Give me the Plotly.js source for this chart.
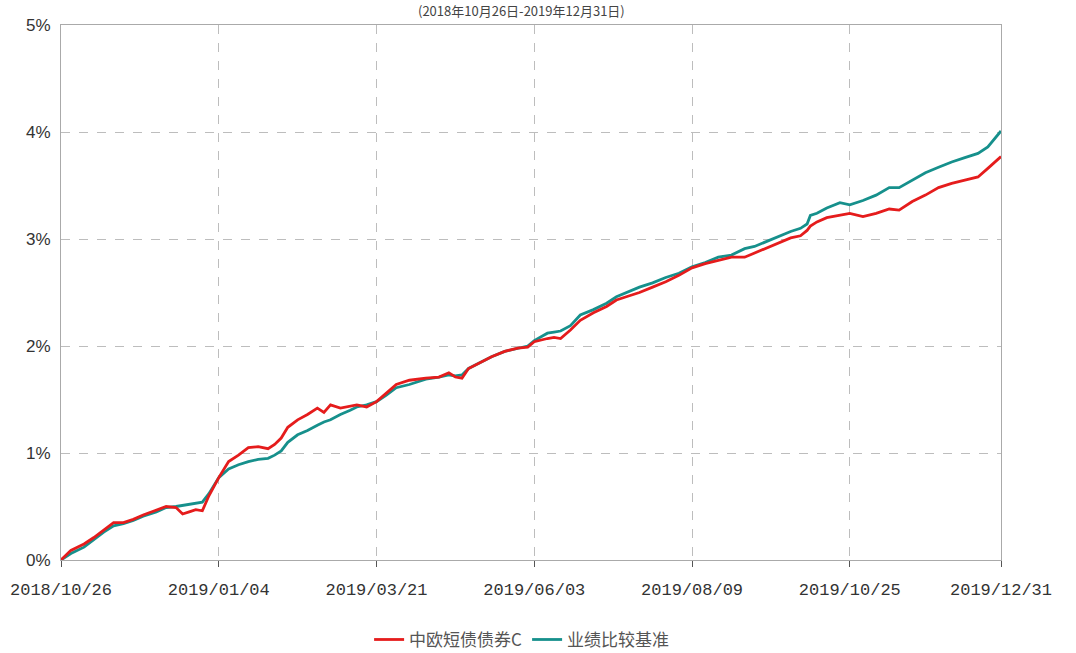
<!DOCTYPE html>
<html>
<head>
<meta charset="utf-8">
<script src="https://cdn.plot.ly/plotly-3.0.1.min.js"></script>
<style>html,body{margin:0;padding:0;background:#fff;}#chart{width:1076px;height:653px;}</style>
</head>
<body>
<div id="chart"></div>
<script>
// trading-day index since 2018/10/26
const days = [0,3,7,10,13,16,19,22,25,29,32,35,37,39,41,43,45,48,51,54,57,60,63,65,67,69,72,75,78,80,82,85,88,90,93,96,99,102,106,108,111,115,118,120,122,124,127,131,135,139,142,144,148,150,152,155,158,162,166,169,172,176,180,184,188,192,196,200,204,208,211,214,218,222,225,227,228,230,233,237,240,244,248,252,255,259,263,267,271,275,279,282,286];
const fundName = '中欧短债债券C';
const benchName = '业绩比较基准';
const fundValues = [0.00,0.09,0.15,0.21,0.28,0.35,0.35,0.38,0.42,0.47,0.50,0.49,0.43,0.45,0.47,0.46,0.60,0.77,0.92,0.98,1.05,1.06,1.04,1.08,1.14,1.24,1.31,1.36,1.42,1.38,1.45,1.42,1.44,1.45,1.43,1.48,1.56,1.64,1.68,1.69,1.70,1.71,1.75,1.71,1.70,1.79,1.84,1.90,1.95,1.98,1.99,2.04,2.07,2.08,2.07,2.15,2.24,2.31,2.37,2.43,2.46,2.50,2.55,2.60,2.66,2.73,2.77,2.80,2.83,2.83,2.87,2.91,2.96,3.01,3.03,3.08,3.12,3.16,3.20,3.22,3.24,3.21,3.24,3.28,3.27,3.35,3.41,3.48,3.52,3.55,3.58,3.66,3.77];
const benchValues = [0.00,0.06,0.12,0.19,0.26,0.32,0.34,0.37,0.41,0.45,0.49,0.50,0.51,0.52,0.53,0.54,0.62,0.77,0.85,0.89,0.92,0.94,0.95,0.98,1.02,1.10,1.17,1.21,1.26,1.29,1.31,1.36,1.40,1.43,1.45,1.48,1.54,1.61,1.64,1.66,1.69,1.71,1.73,1.72,1.73,1.79,1.84,1.90,1.95,1.98,2.00,2.05,2.12,2.13,2.14,2.19,2.29,2.34,2.40,2.46,2.50,2.55,2.59,2.64,2.68,2.74,2.78,2.83,2.85,2.91,2.93,2.97,3.02,3.07,3.10,3.14,3.22,3.24,3.29,3.34,3.32,3.36,3.41,3.48,3.48,3.55,3.62,3.67,3.72,3.76,3.80,3.86,4.01];
const tickDays = [0,48,96,144,192,240,286];
const tickLabels = ['2018/10/26','2019/01/04','2019/03/21','2019/06/03','2019/08/09','2019/10/25','2019/12/31'];
const yTicks = [0,1,2,3,4,5];
const yTickLabels = ['0%','1%','2%','3%','4%','5%'];
const subtitle = '(2018年10月26日-2019年12月31日)';

const traces = [
  {x: days, y: benchValues, name: benchName, type: 'scatter', mode: 'lines',
   line: {color: '#16908c', width: 2.8}},
  {x: days, y: fundValues, name: fundName, type: 'scatter', mode: 'lines',
   line: {color: '#e51c1c', width: 2.8}}
];

const layout = {
  width: 1076, height: 653,
  margin: {l: 61, r: 75, t: 25, b: 93, autoexpand: false},
  paper_bgcolor: '#fff', plot_bgcolor: '#fff',
  showlegend: true,
  legend: {orientation: 'h', x: 0.49, xanchor: 'center', yref: 'container', y: 0.02, yanchor: 'middle',
           traceorder: 'reversed',
           font: {family: 'Noto Sans CJK SC, sans-serif', size: 17, color: '#555'}},
  xaxis: {
    range: [0, 286], tickvals: tickDays, ticktext: tickLabels, automargin: false,
    showgrid: true, gridcolor: '#bdbdbd', griddash: 'dash', gridwidth: 1,
    showline: true, linecolor: '#aaaaaa', linewidth: 1, mirror: true,
    ticks: 'outside', ticklen: 6, tickcolor: '#555', ticklabelstandoff: 8,
    zeroline: false,
    tickfont: {family: 'Liberation Mono, monospace', size: 17, color: '#333'}
  },
  yaxis: {
    range: [0, 5], tickvals: yTicks, ticktext: yTickLabels, automargin: false,
    showgrid: true, gridcolor: '#bdbdbd', griddash: 'dash', gridwidth: 1,
    showline: true, linecolor: '#aaaaaa', linewidth: 1, mirror: true,
    ticks: '', zeroline: false, ticklabelstandoff: 6,
    tickfont: {family: 'Liberation Sans, sans-serif', size: 17, color: '#333'}
  },
  annotations: [{
    text: subtitle, xref: 'paper', yref: 'paper', x: 0.49, y: 1.0,
    yshift: 3, xanchor: 'center', yanchor: 'bottom', showarrow: false,
    font: {family: 'Noto Sans CJK SC, sans-serif', size: 13, color: '#444'}
  }]
};

Plotly.newPlot('chart', traces, layout, {displayModeBar: false, staticPlot: true});
</script>
</body>
</html>
